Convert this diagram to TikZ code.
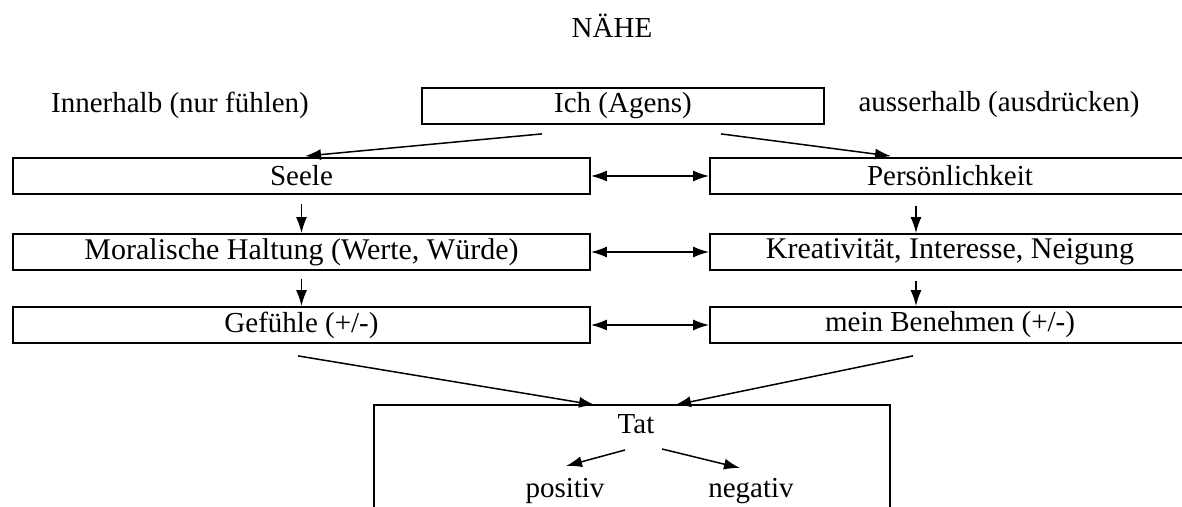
\documentclass[tikz,border=0pt]{standalone}
\usepackage{fontspec}
\setmainfont{Liberation Serif}
\usetikzlibrary{arrows.meta, calc}

\begin{document}
\begin{tikzpicture}[x=0.5pt, y=-0.5pt,
    font=\fontsize{14.5}{16}\selectfont,
    box/.style={draw, line width=0.9pt, minimum height=18pt, inner sep=0pt},
    lbox/.style={box, minimum width=288.5pt},
    rbox/.style={box, minimum width=240pt},
    big/.style={font=\fontsize{15}{17}\selectfont},
    arr/.style={-{Latex[length=8pt, width=5.5pt]}, line width=0.75pt},
    darr/.style={{Latex[length=8pt, width=5.5pt]}-{Latex[length=8pt, width=5.5pt]}, line width=0.75pt}]
    \useasboundingbox (0, 0) rectangle (1182, 507);
    \begin{scope}
        % Title and top row
        \node[anchor=base] (title) at (612, 38) {NÄHE};
        \node (innen) at (180, 105) {Innerhalb (nur fühlen)};
        \node (aussen) at (999, 105) {ausserhalb (ausdrücken)};
        \node[box, minimum width=201pt] (ich) at (623, 106) {Ich (Agens)};
        % Left column
        \node[lbox] (seele) at (301.5, 176) {Seele};
        \node[lbox, big] (moral) at (301.5, 252) {Moralische Haltung (Werte, Würde)};
        \node[lbox] (gef) at (301.5, 325) {Gefühle (+/-)};
        % Right column
        \node[rbox] (pers) at (950, 176) {Persönlichkeit};
        \node[rbox, big] (kreat) at (950, 252) {Kreativität, Interesse, Neigung};
        \node[rbox] (benehm) at (950, 325) {mein Benehmen (+/-)};
        % Arrows from Ich
        \draw[arr] ($(ich.south) + (-81, 9)$) -- ($(seele.north) + (3.5, -1)$);
        \draw[arr] ($(ich.south) + (98, 9)$) -- ($(pers.north) + (-59, -1)$);
        % Down arrows
        \draw[arr] ($(seele.south) + (0, 9)$) -- (moral.north);
        \draw[arr] ($(moral.south) + (0, 8)$) -- (gef.north);
        \draw[arr] ($(pers.south) + (-34, 11)$) -- ($(kreat.north) + (-34, 0)$);
        \draw[arr] ($(kreat.south) + (-34, 10)$) -- ($(benehm.north) + (-34, 0)$);
        % Double arrows
        \draw[darr] (seele.east) -- (pers.west);
        \draw[darr] (moral.east) -- (kreat.west);
        \draw[darr] (gef.east) -- (benehm.west);
        % Tat box
        \draw[line width=0.9pt] (374, 520) |- (890, 405) -- (890, 520);
        \coordinate (tattop) at (636, 405);
        \node[anchor=base] (tat) at (636, 433) {Tat};
        \node[anchor=base] (pos) at (565, 497) {positiv};
        \node[anchor=base] (neg) at (751, 497) {negativ};
        \draw[arr] ($(gef.south) + (-3.5, 12)$) -- ($(tattop) + (-41, 0)$);
        \draw[arr] ($(benehm.south) + (-37, 12)$) -- ($(tattop) + (39, 0)$);
        \draw[arr] ($(tat.base) + (-11, 17)$) -- ($(pos.base) + (1, -31)$);
        \draw[arr] ($(tat.base) + (26, 16)$) -- ($(neg.base) + (-11, -29)$);
    \end{scope}
\end{tikzpicture}
\end{document}
